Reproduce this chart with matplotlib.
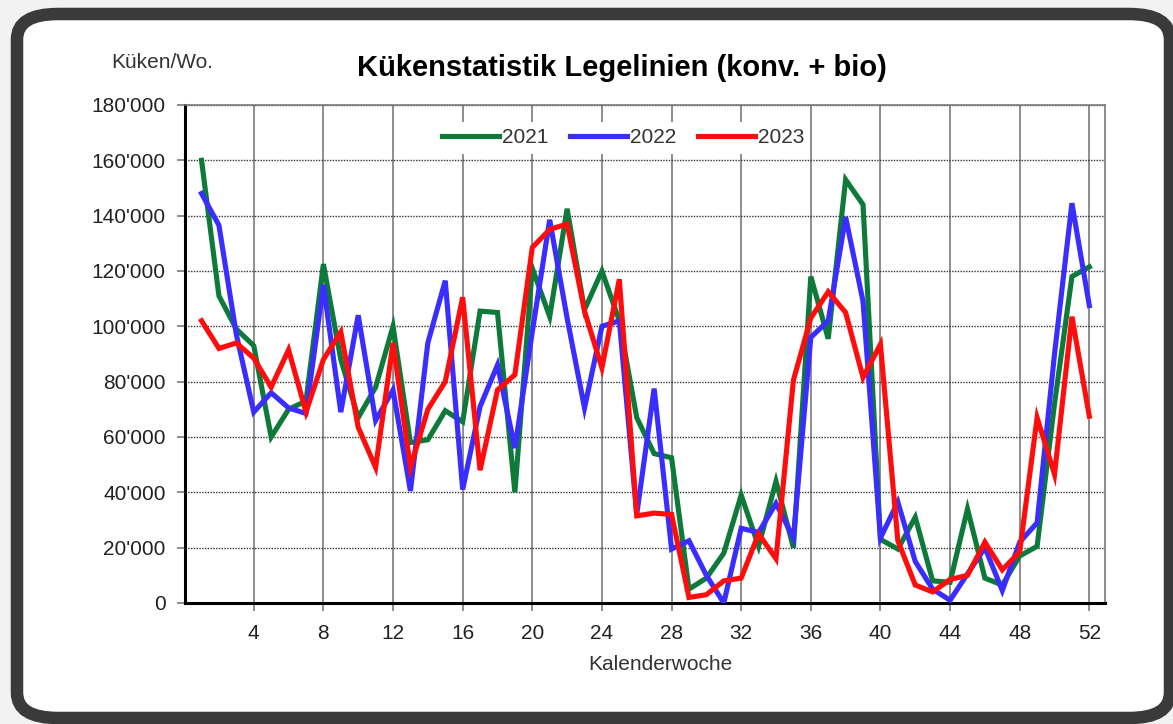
import matplotlib.pyplot as plt
from matplotlib.patches import FancyBboxPatch
from matplotlib.ticker import FuncFormatter, MultipleLocator

plt.rcParams['font.family'] = ['Liberation Sans', 'DejaVu Sans']

weeks = list(range(1, 53))

y2021 = [160000, 111000, 99000, 93000, 60000, 70000, 73000, 122500, 88000, 67000,
         78000, 100000, 58000, 59000, 69500, 65500, 105500, 105000, 40000, 121000,
         103500, 142500, 106000, 120000, 102000, 67000, 54000, 52500, 5000, 9000,
         18000, 39000, 20500, 44000, 20000, 118000, 95500, 153000, 144000, 23000,
         19500, 31000, 8000, 7500, 34000, 9000, 6500, 17000, 20500, 72000,
         118000, 121500]
y2022 = [148000, 136500, 97000, 69000, 76000, 70500, 68500, 115000, 69000, 104000,
         66000, 77000, 40500, 94000, 116500, 41000, 71000, 86000, 56000, 98000,
         138500, 103000, 70500, 100000, 102000, 32000, 77500, 19500, 22500, 10000,
         0, 27000, 25500, 36000, 23500, 96000, 102000, 139500, 109000, 23500,
         36500, 15000, 5000, 1000, 10500, 20000, 4500, 22000, 29000, 90000,
         144500, 107500]
y2023 = [102000, 92000, 94000, 88500, 78000, 91500, 69000, 88000, 98000, 63500,
         49000, 94000, 49000, 70000, 80000, 110500, 48000, 77000, 82500, 128500,
         135000, 137000, 105500, 85000, 117000, 31500, 32500, 32000, 2000, 3000,
         8000, 9000, 25000, 16000, 80500, 103000, 112500, 105000, 81500, 93500,
         22500, 6500, 4000, 8500, 10000, 22000, 12000, 18500, 67000, 46500,
         103500, 67500]

series = [("2021", y2021, "#0d7a3a"), ("2022", y2022, "#3a2dff"), ("2023", y2023, "#ff0d0d")]

W, H = 1173, 724
fig = plt.figure(figsize=(W / 100, H / 100), dpi=100)
fig.patch.set_facecolor("#f2f2f2")

# rounded dark frame around the white panel
frame = FancyBboxPatch((17 / W, 1 - 718 / H), (1170 - 17) / W, (718 - 14) / H,
                       boxstyle="round,pad=0,rounding_size=0.035",
                       transform=fig.transFigure, facecolor="white",
                       edgecolor="#3a3a3a", linewidth=9, zorder=-5)
fig.patches.append(frame)

ax = fig.add_axes([185 / W, 1 - 603 / H, 920 / W, 498 / H])
ax.set_zorder(2)
ax.set_facecolor("white")

for label, vals, col in series:
    ax.plot(weeks, vals, color=col, lw=3.7, label=label, solid_joinstyle="miter", zorder=3)

ax.set_xlim(0.05, 52.9)
ax.set_ylim(0, 180000)
ax.xaxis.set_major_locator(MultipleLocator(4))
ax.yaxis.set_major_locator(MultipleLocator(20000))
ax.yaxis.set_major_formatter(FuncFormatter(lambda v, p: "0" if v == 0 else "%d'%03d" % (v // 1000, v % 1000)))

ax.grid(axis="x", color="#7a7a7a", lw=1.2, ls="-", zorder=1)
ax.grid(axis="y", color="#333333", lw=1.0, ls=(0, (1, 1)), zorder=1)

for side in ["left", "bottom"]:
    ax.spines[side].set_linewidth(2.2)
    ax.spines[side].set_color("black")
for side in ["top", "right"]:
    ax.spines[side].set_linewidth(1.2)
    ax.spines[side].set_color("#7a7a7a")

ax.tick_params(axis="both", labelsize=15, colors="#7a7a7a", labelcolor="#222222",
               length=6, width=1.2)
ax.tick_params(axis="y", pad=8)
ax.tick_params(axis="x", pad=9)

fig.text(660 / W, 1 - 665 / H, "Kalenderwoche", fontsize=15, color="#333333",
         ha="center", va="center")

leg = ax.legend(loc="center", bbox_to_anchor=(0.476, 0.934), ncol=3, frameon=True,
                edgecolor="none", facecolor="white", framealpha=1, fancybox=False,
                fontsize=15, handlelength=2.75, handletextpad=0.12, columnspacing=1.05,
                borderpad=0.3)
leg.set_zorder(5)
for t in leg.get_texts():
    t.set_color("#333333")

fig.text(622 / W, 1 - 68 / H, "Kükenstatistik Legelinien (konv. + bio)",
         fontsize=21, fontweight="bold", ha="center", va="center", color="black")
fig.text(162 / W, 1 - 62 / H, "Küken/Wo.", fontsize=15, ha="center",
         va="center", color="#333333")

fig.savefig("out.png", dpi=100, facecolor=fig.get_facecolor())
